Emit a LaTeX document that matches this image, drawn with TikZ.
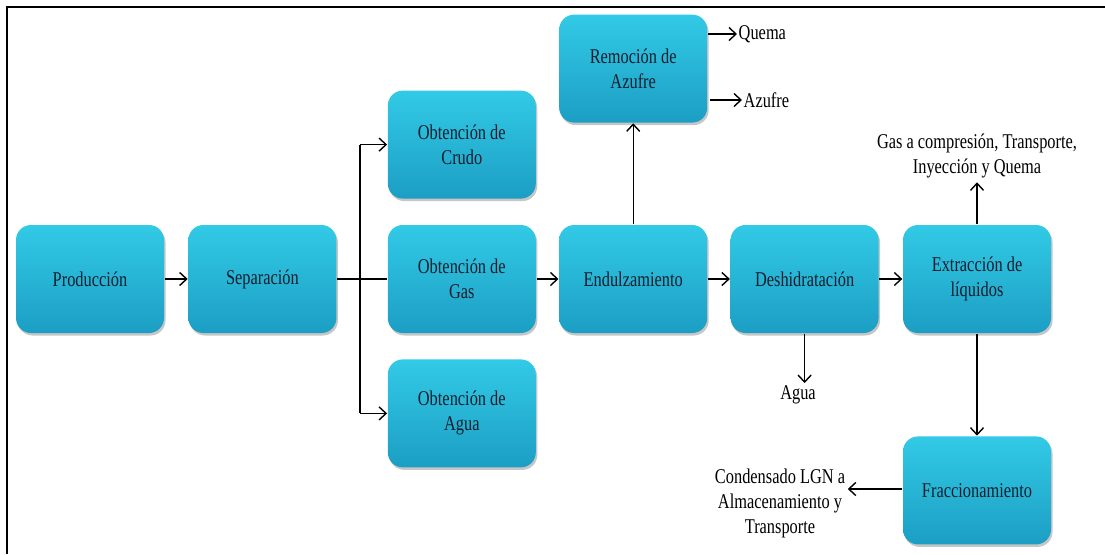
\documentclass[tikz,border=0pt]{standalone}
\usepackage{fontspec}
\setmainfont{Liberation Serif}[FakeStretch=0.78]
\usepackage{tikz}
\usetikzlibrary{
	arrows.meta,
	positioning,
	calc,
	shadows
}
\definecolor{boxtop}{RGB}{50,202,230}
\definecolor{boxbot}{RGB}{28,158,196}
\definecolor{boxtxt}{RGB}{20,30,45}

\tikzset{
	proc/.style={rounded corners=15pt, minimum width=148pt, minimum height=108pt,
		top color=boxtop, bottom color=boxbot, align=center, text=boxtxt,
		drop shadow={shadow xshift=1.5pt, shadow yshift=-2.5pt, opacity=.45}},
	lbl/.style={align=center},
	arr/.style={-{Straight Barb[length=7pt,width=13pt]}}
}

\begin{document}
\begin{tikzpicture}[x=1pt, y=-1pt, line width=1.4pt, font=\fontsize{21}{25}\selectfont]

		\useasboundingbox (0,0) rectangle (1105,554);
		\draw[line width=2pt] (7,554) -- (7,7) -- (1105,7);

		\node[proc] (prod) at (90,279) {Producción};
		\node[proc, right=23pt of prod] (sep) {Separación};
		\node[proc, right=50pt of sep] (gas) {Obtención de\\Gas};
		\node[proc, above=25pt of gas] (crudo) {Obtención de\\Crudo};
		\node[proc, below=25pt of gas] (agua) {Obtención de\\Agua};
		\node[proc, right=22pt of gas] (endul) {Endulzamiento};
		\node[proc, above=101pt of endul] (remo) {Remoción de\\Azufre};
		\node[proc, right=22pt of endul] (desh) {Deshidratación};
		\node[proc, right=23pt of desh] (extr) {Extracción de\\líquidos};
		\node[proc, below=102pt of extr] (frac) {Fraccionamiento};

		% salidas
		\node[lbl, anchor=west, inner sep=1pt] (quema) at (737,34) {Quema};
		\node[lbl, anchor=west, inner sep=1pt] (azufre) at (742,100) {Azufre};
		\node[lbl, inner sep=2pt] (aguaout) at (798,395) {Agua};
		\node[lbl, above=42pt of extr] (gasout) {Gas a compresión, Transporte,\\Inyección y Quema};
		\node[lbl, inner sep=2pt] (cond) at (780,503) {Condensado LGN a\\Almacenamiento y\\Transporte};

		\coordinate (br) at ($(sep.east)+(23,0)$);
		\coordinate (azs) at (710,100);

		\draw[arr] (prod) -- (sep);
		\draw (sep) -- (gas);
		\draw (br |- crudo) -- (br |- agua);
		\draw[arr] (br |- crudo) -- (crudo);
		\draw[arr] (br |- agua) -- (agua);
		\draw[arr] (gas) -- (endul);
		\draw[arr] (endul) -- (remo);
		\draw[arr] (remo.east |- quema) -- (quema);
		\draw[arr] (azs) -- (azufre);
		\draw[arr] (endul) -- (desh);
		\draw[arr] (desh.south) -- (desh.south |- aguaout.north);
		\draw[arr] (desh) -- (extr);
		\draw[arr] (extr) -- (gasout);
		\draw[arr] (extr) -- (frac);
		\draw[arr] (frac.west |- 0,489) -- (cond.east |- 0,489);

	\end{tikzpicture}
\end{document}
